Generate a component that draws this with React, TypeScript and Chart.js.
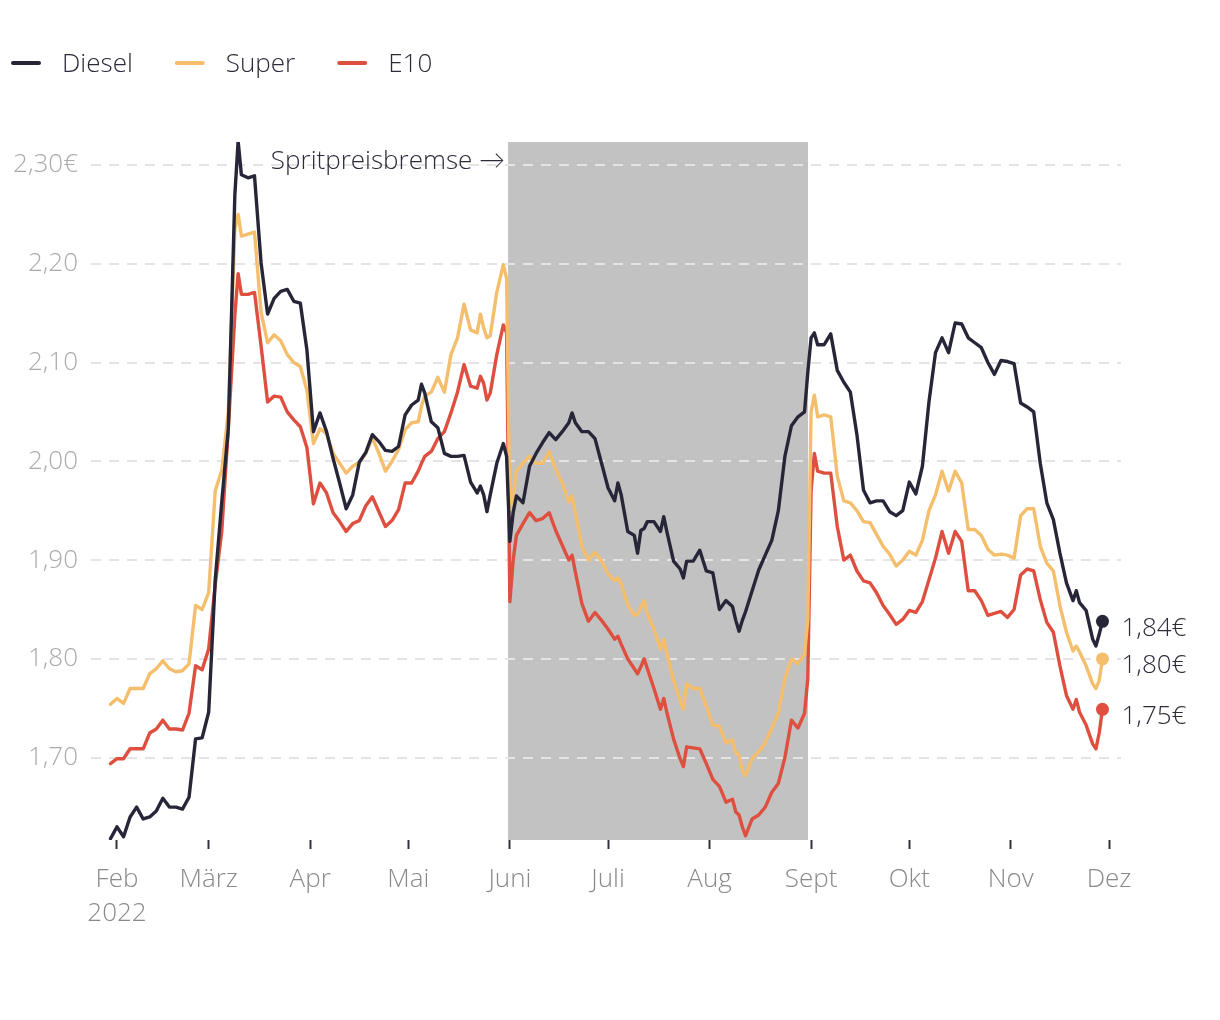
import React, { useEffect, useRef } from "react";
import { Chart, registerables } from "chart.js";

Chart.register(...registerables);

// Days since 1 Feb 2022
const days = [
  -2, 0, 2, 4, 6, 8, 10, 12, 14, 16,
  18, 20, 22, 24, 26, 28, 30, 32, 34, 36,
  37, 38, 40, 42, 44, 46, 48, 50, 52, 54,
  56, 58, 60, 62, 64, 66, 68, 70, 72, 74,
  76, 78, 80, 82, 84, 86, 88, 90, 92, 93,
  94, 96, 98, 100, 102, 104, 106, 108, 110, 111,
  112, 113, 114, 116, 118, 119, 120, 121, 122, 124,
  126, 128, 130, 132, 134, 136, 138, 139, 140, 142,
  144, 146, 148, 150, 152, 153, 154, 156, 158, 159,
  160, 161, 162, 164, 166, 167, 168, 170, 172, 173,
  174, 176, 178, 180, 182, 184, 186, 188, 189, 190,
  191, 192, 194, 196, 198, 200, 202, 204, 206, 208,
  210, 211, 212, 213, 214, 216, 218, 220, 222, 224,
  226, 228, 230, 232, 234, 236, 238, 240, 242, 244,
  246, 248, 250, 252, 254, 256, 258, 260, 262, 264,
  266, 268, 270, 272, 274, 276, 278, 280, 282, 284,
  286, 288, 290, 292, 293, 294, 296, 298, 299, 300,
  301,
];

const diesel = [
  1.618, 1.630, 1.620, 1.640, 1.650, 1.638, 1.640, 1.646, 1.659, 1.650,
  1.650, 1.648, 1.660, 1.719, 1.720, 1.746, 1.880, 1.959, 2.033, 2.270,
  2.324, 2.290, 2.287, 2.289, 2.201, 2.149, 2.165, 2.172, 2.174, 2.162,
  2.160, 2.113, 2.030, 2.049, 2.030, 2.003, 1.978, 1.952, 1.966, 1.999,
  2.009, 2.027, 2.020, 2.011, 2.010, 2.015, 2.047, 2.057, 2.062, 2.078,
  2.069, 2.040, 2.034, 2.008, 2.005, 2.005, 2.006, 1.979, 1.968, 1.975,
  1.966, 1.949, 1.966, 1.998, 2.018, 2.005, 1.919, 1.948, 1.965, 1.958,
  1.995, 2.008, 2.019, 2.029, 2.022, 2.030, 2.039, 2.049, 2.039, 2.030,
  2.030, 2.023, 1.998, 1.973, 1.960, 1.978, 1.966, 1.929, 1.925, 1.907,
  1.930, 1.932, 1.939, 1.939, 1.929, 1.944, 1.928, 1.899, 1.891, 1.882,
  1.899, 1.899, 1.910, 1.889, 1.887, 1.850, 1.859, 1.853, 1.839, 1.828,
  1.839, 1.848, 1.869, 1.890, 1.905, 1.920, 1.950, 2.005, 2.036, 2.045,
  2.050, 2.090, 2.125, 2.130, 2.118, 2.118, 2.129, 2.092, 2.080, 2.070,
  2.027, 1.971, 1.958, 1.960, 1.960, 1.949, 1.945, 1.950, 1.979, 1.967,
  1.995, 2.060, 2.110, 2.125, 2.110, 2.140, 2.139, 2.125, 2.120, 2.115,
  2.100, 2.088, 2.102, 2.101, 2.099, 2.059, 2.055, 2.050, 1.998, 1.958,
  1.941, 1.907, 1.877, 1.859, 1.869, 1.857, 1.849, 1.820, 1.813, 1.825,
  1.838,
];

const superE5 = [
  1.754, 1.760, 1.755, 1.770, 1.770, 1.770, 1.785, 1.790, 1.798, 1.790,
  1.787, 1.788, 1.795, 1.854, 1.850, 1.867, 1.970, 1.991, 2.050, 2.235,
  2.250, 2.228, 2.230, 2.232, 2.151, 2.120, 2.128, 2.122, 2.108, 2.100,
  2.096, 2.072, 2.018, 2.033, 2.028, 2.008, 1.998, 1.988, 1.995, 1.999,
  2.008, 2.024, 2.008, 1.990, 2.000, 2.012, 2.032, 2.039, 2.040, 2.056,
  2.066, 2.070, 2.085, 2.070, 2.108, 2.125, 2.159, 2.133, 2.130, 2.149,
  2.135, 2.125, 2.127, 2.171, 2.199, 2.185, 1.951, 1.965, 1.990, 1.998,
  2.005, 1.998, 1.998, 2.010, 1.992, 1.978, 1.959, 1.965, 1.948, 1.914,
  1.900, 1.908, 1.899, 1.886, 1.879, 1.882, 1.876, 1.855, 1.844, 1.845,
  1.852, 1.859, 1.846, 1.830, 1.810, 1.820, 1.805, 1.778, 1.758, 1.749,
  1.775, 1.770, 1.770, 1.752, 1.733, 1.732, 1.715, 1.718, 1.705, 1.703,
  1.687, 1.682, 1.699, 1.706, 1.715, 1.730, 1.745, 1.780, 1.800, 1.795,
  1.805, 1.840, 2.050, 2.067, 2.045, 2.047, 2.045, 1.985, 1.960, 1.958,
  1.950, 1.939, 1.938, 1.926, 1.914, 1.906, 1.894, 1.900, 1.909, 1.905,
  1.920, 1.950, 1.966, 1.990, 1.970, 1.990, 1.978, 1.931, 1.931, 1.925,
  1.911, 1.905, 1.906, 1.905, 1.902, 1.945, 1.952, 1.952, 1.914, 1.897,
  1.889, 1.854, 1.827, 1.808, 1.813, 1.807, 1.793, 1.775, 1.770, 1.778,
  1.800,
];

const e10 = [
  1.694, 1.699, 1.699, 1.709, 1.709, 1.709, 1.725, 1.729, 1.738, 1.729,
  1.729, 1.728, 1.745, 1.793, 1.789, 1.810, 1.875, 1.929, 2.033, 2.148,
  2.190, 2.169, 2.169, 2.171, 2.117, 2.060, 2.066, 2.065, 2.050, 2.042,
  2.035, 2.014, 1.957, 1.978, 1.968, 1.948, 1.939, 1.929, 1.937, 1.940,
  1.955, 1.964, 1.949, 1.934, 1.940, 1.951, 1.978, 1.978, 1.990, 1.998,
  2.005, 2.010, 2.023, 2.030, 2.049, 2.070, 2.098, 2.076, 2.074, 2.086,
  2.079, 2.062, 2.069, 2.108, 2.138, 2.130, 1.858, 1.900, 1.925, 1.937,
  1.948, 1.940, 1.942, 1.948, 1.930, 1.915, 1.900, 1.905, 1.888, 1.856,
  1.838, 1.847, 1.839, 1.830, 1.820, 1.823, 1.815, 1.800, 1.790, 1.785,
  1.792, 1.800, 1.790, 1.770, 1.749, 1.760, 1.745, 1.719, 1.699, 1.691,
  1.711, 1.710, 1.709, 1.694, 1.678, 1.671, 1.655, 1.658, 1.645, 1.642,
  1.630, 1.621, 1.638, 1.642, 1.650, 1.665, 1.674, 1.700, 1.738, 1.730,
  1.745, 1.780, 1.970, 2.008, 1.990, 1.988, 1.988, 1.934, 1.900, 1.905,
  1.889, 1.879, 1.877, 1.867, 1.854, 1.845, 1.835, 1.840, 1.849, 1.847,
  1.858, 1.880, 1.902, 1.929, 1.907, 1.929, 1.919, 1.869, 1.869, 1.859,
  1.844, 1.846, 1.848, 1.842, 1.850, 1.885, 1.891, 1.889, 1.860, 1.837,
  1.827, 1.793, 1.763, 1.749, 1.759, 1.746, 1.733, 1.714, 1.709, 1.725,
  1.749,
];

const seriesLabels = ["Diesel", "Super", "E10"];
const seriesColors = ["#262638", "#f4be6c", "#de4f3f"];
const monthTickDays = [0, 28, 59, 89, 120, 150, 181, 212, 242, 273, 303];
const monthTickLabels = ["Feb", "März", "Apr", "Mai", "Juni", "Juli", "Aug", "Sept", "Okt", "Nov", "Dez"];
const yearLabel = "2022";
const yTickValues = [1.7, 1.8, 1.9, 2.0, 2.1, 2.2, 2.3];
const bandDays = [119.45, 211.05];
const bandLabel = "Spritpreisbremse →";

const FONT = "'Open Sans', Lato, sans-serif";
const FS = 26;

const fmt = (v: number) => v.toFixed(2).replace(".", ",");

const bandPlugin = {
  id: "band",
  beforeDraw(chart: any) {
    const { ctx, chartArea, scales } = chart;
    const x0 = scales.x.getPixelForValue(bandDays[0]);
    const x1 = scales.x.getPixelForValue(bandDays[1]);
    ctx.save();
    ctx.fillStyle = "#c2c2c2";
    ctx.fillRect(x0, chartArea.top, x1 - x0, chartArea.bottom - chartArea.top);
    ctx.restore();
  },
};

const overlayPlugin = {
  id: "overlay",
  afterDraw(chart: any) {
    const { ctx, chartArea, scales } = chart;
    const xs = scales.x;
    const ys = scales.y;
    ctx.save();
    ctx.font = `300 ${FS}px ${FONT}`;
    ctx.textBaseline = "middle";
    // legend
    let lx = 11;
    const ly = 63;
    chart.data.datasets.forEach((ds: any) => {
      ctx.strokeStyle = ds.borderColor;
      ctx.lineWidth = 4;
      ctx.lineCap = "round";
      ctx.beginPath();
      ctx.moveTo(lx + 2, ly);
      ctx.lineTo(lx + 28, ly);
      ctx.stroke();
      ctx.fillStyle = "#2b2b3a";
      ctx.textAlign = "left";
      ctx.fillText(ds.label, lx + 51, ly + 2);
      lx += 51 + ctx.measureText(ds.label).width + 42;
    });
    // band annotation
    const bx = xs.getPixelForValue(bandDays[0]);
    ctx.fillStyle = "#2b2b3a";
    ctx.textAlign = "right";
    ctx.fillText(bandLabel, bx - 3, chartArea.top + 20);
    // end labels
    chart.data.datasets.forEach((ds: any) => {
      const last = ds.data[ds.data.length - 1];
      const px = xs.getPixelForValue(last.x);
      const py = ys.getPixelForValue(last.y);
      ctx.textAlign = "left";
      ctx.fillStyle = "#2b2b3a";
      ctx.fillText(fmt(last.y) + "€", px + 19, py + 7);
    });
    ctx.restore();
  },
};

export default function App() {
  const ref = useRef<HTMLCanvasElement>(null);
  useEffect(() => {
    document.body.style.margin = "0";
    const series = [diesel, superE5, e10];
    const lastIdx = days.length - 1;
    const chart = new Chart(ref.current as HTMLCanvasElement, {
      type: "line",
      data: {
        datasets: series.map((vals, s) => ({
          label: seriesLabels[s],
          data: days.map((d, i) => ({ x: d, y: vals[i] })),
          borderColor: seriesColors[s],
          backgroundColor: seriesColors[s],
          borderWidth: 3.4,
          borderJoinStyle: "round" as const,
          borderCapStyle: "round" as const,
          pointRadius: (c: any) => (c.dataIndex === lastIdx ? 6.5 : 0),
          pointBorderWidth: 0,
          pointHoverRadius: 0,
          tension: 0,
        })),
      },
      options: {
        responsive: false,
        animation: false,
        events: [],
        layout: { padding: { top: 142, right: 99, bottom: 80, left: 0 } },
        plugins: { legend: { display: false }, tooltip: { enabled: false } },
        scales: {
          x: {
            type: "linear",
            min: -7.94,
            max: 306.66,
            afterBuildTicks: (s: any) => {
              s.ticks = monthTickDays.map((v) => ({ value: v }));
            },
            afterFit: (s: any) => {
              s.height = 100;
            },
            ticks: {
              autoSkip: false,
              maxRotation: 0,
              padding: 14,
              color: "#8a8a8a",
              font: { family: FONT, size: FS, weight: "300", lineHeight: 1.3 },
              callback: (v: any) => {
                const i = monthTickDays.indexOf(Number(v));
                const lab = monthTickLabels[i] ?? "";
                return i === 0 ? [lab, yearLabel] : lab;
              },
            },
            grid: {
              drawOnChartArea: false,
              drawTicks: true,
              tickLength: 9,
              tickWidth: 2,
              tickColor: "#333340",
            },
            border: { display: false },
          },
          y: {
            min: 1.6167,
            max: 2.3232,
            afterBuildTicks: (s: any) => {
              s.ticks = yTickValues.map((v) => ({ value: v }));
            },
            afterFit: (s: any) => {
              s.width = 91;
            },
            ticks: {
              padding: 13,
              color: "#ababab",
              font: { family: FONT, size: FS, weight: "300" },
              callback: (v: any) => (Number(v) === 2.3 ? fmt(Number(v)) + "€" : fmt(Number(v))),
            },
            grid: {
              drawTicks: false,
              color: "#e4e4e4",
              lineWidth: 2,
            },
            border: { display: false, dash: [10, 8] },
          },
        },
      } as any,
      plugins: [bandPlugin, overlayPlugin],
    });
    return () => chart.destroy();
  }, []);
  return (
    <canvas
      ref={ref}
      width={1220}
      height={1020}
      style={{ display: "block", width: 1220, height: 1020 }}
    />
  );
}
